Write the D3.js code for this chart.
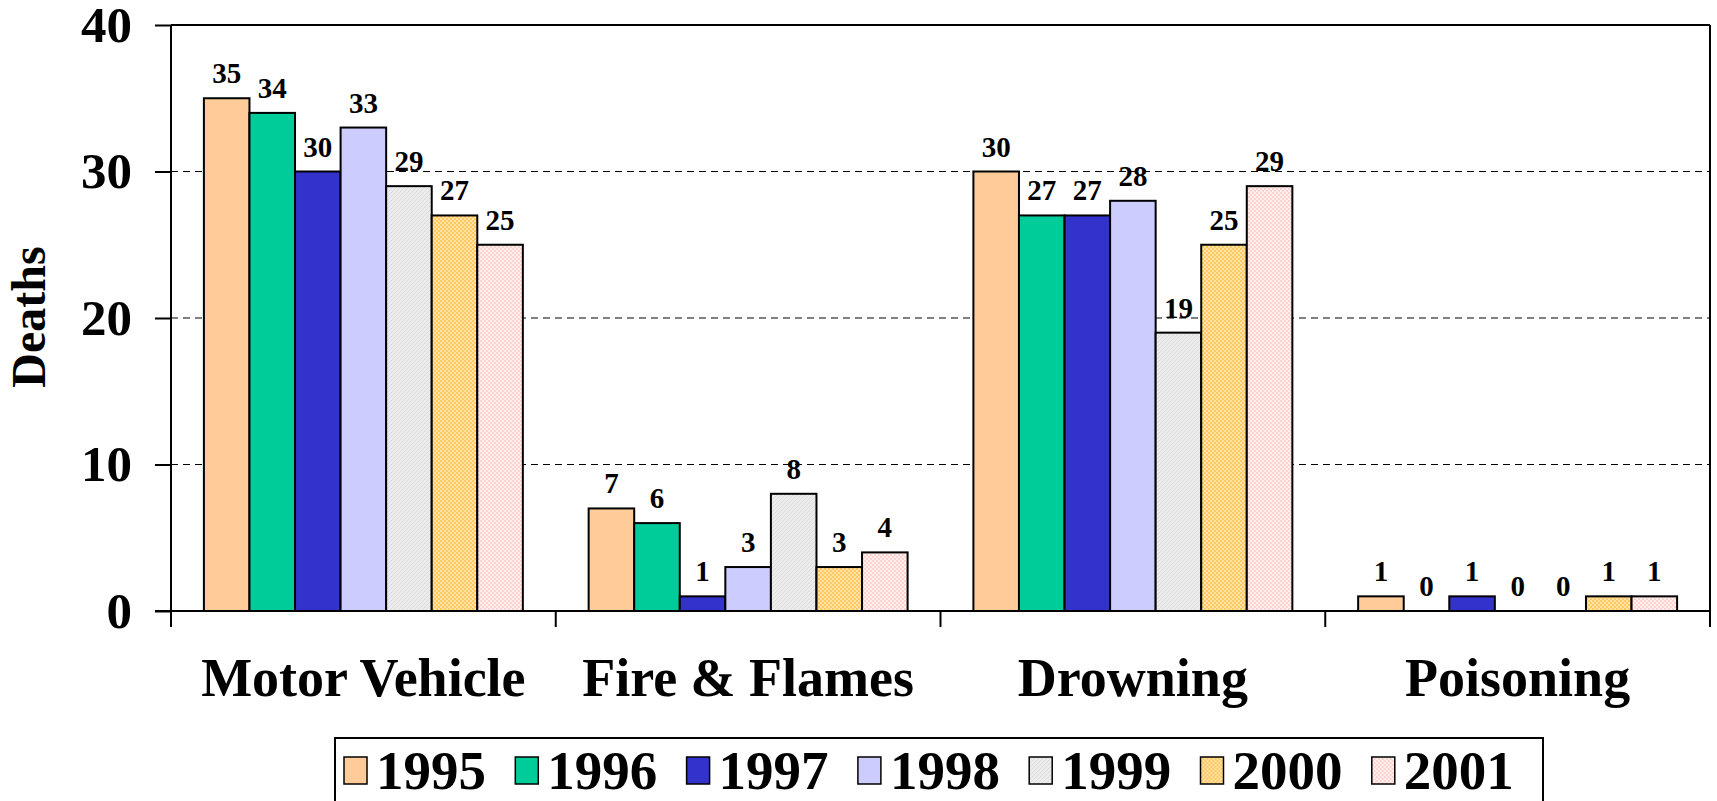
<!DOCTYPE html>
<html>
<head>
<meta charset="utf-8">
<script src="https://cdn.jsdelivr.net/npm/d3@7"></script>
<style>
  body { margin: 0; background: #fff; }
  svg { display: block; font-family: "Liberation Serif", "Times New Roman", serif; font-weight: bold; }
</style>
</head>
<body>
<svg id="chart"></svg>
<script>
let categories = ["Motor Vehicle", "Fire & Flames", "Drowning", "Poisoning"];
let years = ["1995", "1996", "1997", "1998", "1999", "2000", "2001"];
let deaths1995 = [35, 7, 30, 1];
let deaths1996 = [34, 6, 27, 0];
let deaths1997 = [30, 1, 27, 1];
let deaths1998 = [33, 3, 28, 0];
let deaths1999 = [29, 8, 19, 0];
let deaths2000 = [27, 3, 25, 1];
let deaths2001 = [25, 4, 29, 1];
let yTicks = [0, 10, 20, 30, 40];

let series = [deaths1995, deaths1996, deaths1997, deaths1998, deaths1999, deaths2000, deaths2001];

let width = 1717;
let height = 801;

let svg = d3.select("#chart")
    .attr("width", width)
    .attr("height", height);

// fills, the last three are patterned like the excel original
let defs = svg.append("defs");

let p99 = defs.append("pattern").attr("id", "p1999")
    .attr("patternUnits", "userSpaceOnUse").attr("width", 4).attr("height", 4);
p99.append("rect").attr("width", 4).attr("height", 4).attr("fill", "#ececec");
p99.append("path").attr("d", "M0,4 L4,0").attr("stroke", "#dcdcdc").attr("stroke-width", 1);

let p00 = defs.append("pattern").attr("id", "p2000")
    .attr("patternUnits", "userSpaceOnUse").attr("width", 4).attr("height", 4);
p00.append("rect").attr("width", 4).attr("height", 4).attr("fill", "#ffe2a6");
p00.append("rect").attr("width", 2).attr("height", 2).attr("fill", "#ffc860");
p00.append("rect").attr("x", 2).attr("y", 2).attr("width", 2).attr("height", 2).attr("fill", "#ffc860");

let p01 = defs.append("pattern").attr("id", "p2001")
    .attr("patternUnits", "userSpaceOnUse").attr("width", 4).attr("height", 4);
p01.append("rect").attr("width", 4).attr("height", 4).attr("fill", "#fff0f0");
p01.append("rect").attr("width", 2).attr("height", 2).attr("fill", "#ffd2d2");
p01.append("rect").attr("x", 2).attr("y", 2).attr("width", 2).attr("height", 2).attr("fill", "#ffd2d2");

let colors = ["#ffcc99", "#00cc99", "#3333cc", "#ccccff", "url(#p1999)", "url(#p2000)", "url(#p2001)"];

let plotLeft = 171, plotRight = 1710, plotTop = 25, plotBottom = 611;

let scaleX = d3.scaleBand()
    .domain(categories)
    .range([plotLeft, plotRight])
    .paddingInner(0.171)
    .paddingOuter(0.0855);

let scaleYear = d3.scaleBand()
    .domain(years)
    .range([0, scaleX.bandwidth()]);

let scaleY = d3.scaleLinear()
    .domain([0, 40])
    .range([plotBottom, plotTop]);

// dashed gridlines
svg.append("g")
    .selectAll("line")
    .data(yTicks.filter(t => t > 0 && t < 40))
    .enter()
    .append("line")
    .attr("x1", plotLeft).attr("x2", plotRight)
    .attr("y1", d => scaleY(d)).attr("y2", d => scaleY(d))
    .attr("stroke", "#000")
    .attr("stroke-width", 1)
    .attr("stroke-dasharray", "7,5");

// frame top + right
svg.append("line")
    .attr("x1", plotLeft).attr("x2", plotRight)
    .attr("y1", scaleY(40)).attr("y2", scaleY(40))
    .attr("stroke", "#000").attr("stroke-width", 2);
svg.append("line")
    .attr("x1", plotRight).attr("x2", plotRight)
    .attr("y1", scaleY(40)).attr("y2", scaleY(0))
    .attr("stroke", "#000").attr("stroke-width", 2);

// bars
let groups = svg.append("g")
    .selectAll("g")
    .data(series)
    .enter()
    .append("g")
    .attr("fill", (d, i) => colors[i]);

groups.selectAll("rect")
    .data((d, i) => d.map((v, j) => ({v: v, cat: categories[j], year: years[i]})).filter(e => e.v > 0))
    .enter()
    .append("rect")
    .attr("x", d => scaleX(d.cat) + scaleYear(d.year))
    .attr("y", d => scaleY(d.v))
    .attr("width", scaleYear.bandwidth())
    .attr("height", d => scaleY(0) - scaleY(d.v))
    .attr("stroke", "#000")
    .attr("stroke-width", 2);

// value labels
groups.selectAll("text")
    .data((d, i) => d.map((v, j) => ({v: v, cat: categories[j], year: years[i]})))
    .enter()
    .append("text")
    .attr("x", d => scaleX(d.cat) + scaleYear(d.year) + scaleYear.bandwidth() / 2)
    .attr("y", d => scaleY(d.v) - 15)
    .attr("text-anchor", "middle")
    .attr("fill", "#000")
    .style("font-size", "29px")
    .text(d => d.v);

// y axis
let axisY = d3.axisLeft(scaleY)
    .tickValues(yTicks)
    .tickSize(16)
    .tickPadding(23);

let gy = svg.append("g")
    .attr("transform", `translate(${plotLeft}, 0)`)
    .call(axisY);
gy.select(".domain").remove();
gy.selectAll(".tick line").attr("stroke", "#000").attr("stroke-width", 2);
gy.selectAll("text")
    .attr("fill", "#000")
    .style("font-family", "'Liberation Serif', 'Times New Roman', serif")
    .style("font-weight", "bold")
    .style("font-size", "51px");

svg.append("line")
    .attr("x1", plotLeft).attr("x2", plotLeft)
    .attr("y1", plotTop).attr("y2", plotBottom + 16)
    .attr("stroke", "#000").attr("stroke-width", 2);

// x axis line and category separators
svg.append("line")
    .attr("x1", plotLeft - 16).attr("x2", plotRight)
    .attr("y1", plotBottom).attr("y2", plotBottom)
    .attr("stroke", "#000").attr("stroke-width", 2);

svg.append("g")
    .selectAll("line")
    .data(categories)
    .enter()
    .append("line")
    .attr("x1", d => scaleX(d) - scaleX.step() * 0.0855 + scaleX.step())
    .attr("x2", d => scaleX(d) - scaleX.step() * 0.0855 + scaleX.step())
    .attr("y1", plotBottom).attr("y2", plotBottom + 16)
    .attr("stroke", "#000").attr("stroke-width", 2);

svg.append("g")
    .selectAll("text")
    .data(categories)
    .enter()
    .append("text")
    .attr("x", d => scaleX(d) + scaleX.bandwidth() / 2)
    .attr("y", 696)
    .attr("text-anchor", "middle")
    .style("font-size", "54px")
    .text(d => d);

// y title
svg.append("text")
    .attr("transform", "translate(45, 317) rotate(-90)")
    .attr("text-anchor", "middle")
    .style("font-size", "48px")
    .text("Deaths");

// legend
let legend = svg.append("g");
legend.append("rect")
    .attr("x", 335).attr("y", 738)
    .attr("width", 1208).attr("height", 90)
    .attr("fill", "#fff")
    .attr("stroke", "#000").attr("stroke-width", 2);

let items = legend.selectAll("g.item")
    .data(years)
    .enter()
    .append("g")
    .attr("class", "item")
    .attr("transform", (d, i) => `translate(${344 + i * 171.3}, 0)`);

items.append("rect")
    .attr("x", 0).attr("y", 757)
    .attr("width", 23).attr("height", 27)
    .attr("fill", (d, i) => colors[i])
    .attr("stroke", "#000").attr("stroke-width", 1.5);

items.append("text")
    .attr("x", 32)
    .attr("y", 789)
    .style("font-size", "55px")
    .text(d => d);
</script>
</body>
</html>
